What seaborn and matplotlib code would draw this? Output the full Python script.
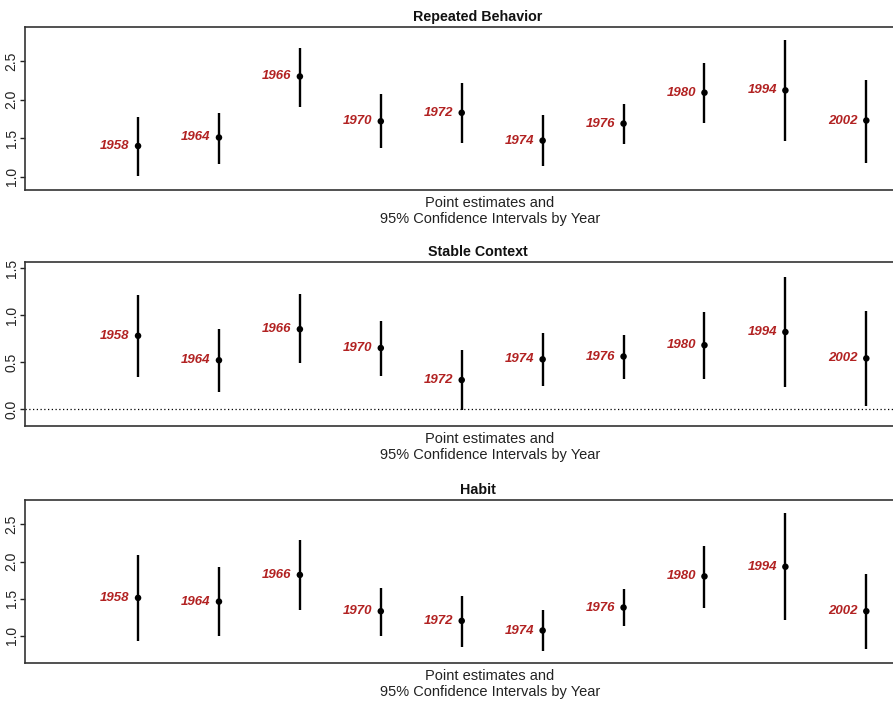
import numpy as np
import pandas as pd
import seaborn as sns
import matplotlib.pyplot as plt

# survey years, shared by all three panels
years = ["1958", "1964", "1966", "1970", "1972", "1974", "1976", "1980", "1994", "2002"]

# Repeated Behavior: point estimate, lower and upper 95% CI
rep_est = [1.40, 1.51, 2.30, 1.72, 1.83, 1.47, 1.69, 2.09, 2.12, 1.73]
rep_lo = [1.01, 1.17, 1.91, 1.37, 1.44, 1.14, 1.43, 1.70, 1.46, 1.18]
rep_hi = [1.78, 1.83, 2.67, 2.07, 2.22, 1.80, 1.95, 2.47, 2.77, 2.26]

# Stable Context
ctx_est = [0.78, 0.52, 0.85, 0.65, 0.31, 0.53, 0.56, 0.68, 0.82, 0.54]
ctx_lo = [0.34, 0.18, 0.49, 0.35, -0.01, 0.25, 0.32, 0.32, 0.24, 0.03]
ctx_hi = [1.21, 0.85, 1.22, 0.94, 0.63, 0.81, 0.79, 1.03, 1.40, 1.04]

# Habit
hab_est = [1.51, 1.46, 1.82, 1.33, 1.20, 1.07, 1.38, 1.80, 1.93, 1.33]
hab_lo = [0.93, 1.00, 1.35, 1.00, 0.85, 0.80, 1.13, 1.37, 1.21, 0.82]
hab_hi = [2.09, 1.92, 2.29, 1.65, 1.54, 1.34, 1.63, 2.21, 2.65, 1.83]

panels = [
    ("Repeated Behavior", rep_est, rep_lo, rep_hi, (0.83, 2.94), [1.0, 1.5, 2.0, 2.5], False),
    ("Stable Context", ctx_est, ctx_lo, ctx_hi, (-0.178, 1.564), [0.0, 0.5, 1.0, 1.5], True),
    ("Habit", hab_est, hab_lo, hab_hi, (0.632, 2.83), [1.0, 1.5, 2.0, 2.5], False),
]

sns.set_style("white")
plt.rcParams["font.family"] = ["Liberation Sans", "DejaVu Sans"]

fig = plt.figure(figsize=(8.93, 7.02), dpi=100)

# axes boxes in figure fractions; the right edge runs past the figure (cropped original)
boxes = [
    (0.028, 0.7293, 1.0146, 0.2322),
    (0.028, 0.3932, 1.0146, 0.2336),
    (0.028, 0.0556, 1.0146, 0.2321),
]

for (title, est, lo, hi, ylim, yticks, zero_line), box in zip(panels, boxes):
    ax = fig.add_axes(box)
    df = pd.DataFrame({"year": years, "est": est, "lo": lo, "hi": hi})
    df["pos"] = np.arange(len(df))

    ax.vlines(df["pos"], df["lo"], df["hi"], color="black", linewidth=1.7, zorder=2)
    sns.scatterplot(data=df, x="pos", y="est", color="black", s=22,
                    edgecolor="none", ax=ax, zorder=3, legend=False)

    for _, row in df.iterrows():
        ax.annotate(row["year"], (row["pos"], row["est"]), xytext=(-6, 0),
                    textcoords="offset points", ha="right", va="center",
                    color="#B22222", fontsize=9.5, fontweight="bold",
                    fontstyle="italic")

    if zero_line:
        ax.axhline(0, color="black", linestyle=(0, (1, 2)), linewidth=0.9, zorder=1)

    ax.set_xlim(-1.397, 9.80)
    ax.set_ylim(*ylim)
    ax.set_xticks([])
    ax.set_yticks(yticks)
    ax.set_yticklabels([f"{t:.1f}" for t in yticks], rotation=90, va="center",
                       fontsize=10, color="#222222")
    ax.tick_params(axis="y", direction="out", length=3.6, width=1,
                   color="#222222", left=True, pad=1)
    ax.set_xlabel("Point estimates and\n95% Confidence Intervals by Year",
                  fontsize=10.5, color="#222222", linespacing=1.25)
    ax.xaxis.set_label_coords(0.513, -0.035, transform=ax.transAxes)
    ax.xaxis.label.set_va("top")
    ax.set_ylabel("")
    ax.set_title(title, fontsize=10.3, fontweight="bold", pad=4, color="#111111")

    for side in ["left", "top", "bottom"]:
        ax.spines[side].set_color("#333333")
        ax.spines[side].set_linewidth(1.2)
    ax.spines["right"].set_visible(False)

fig.savefig("out.png", dpi=100)
